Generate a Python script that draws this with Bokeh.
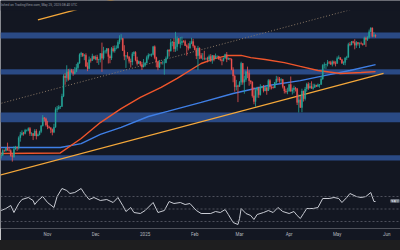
import numpy as np
import pandas as pd
from bokeh.plotting import figure
from bokeh.models import (Range1d, LinearScale, BoxAnnotation, Span, Label,
                          FixedTicker, ColumnDataSource, Div)
from bokeh.layouts import column
from bokeh.embed import file_html
from bokeh.resources import INLINE

# ---------------- data (BTC/USD daily, thousand USD) ----------------
first_day = "2024-10-01"
last_day = "2025-05-25"
open_first = 63.3

close = [
    # Oct 2024
    60.8, 60.6, 60.75, 62.1, 62.05, 62.8, 62.2, 62.1, 60.6, 60.3, 62.5, 63.2, 62.85, 66.05, 67.0, 67.6,
    67.4, 68.4, 68.4, 69.0, 67.4, 67.4, 66.7, 68.2, 66.6, 67.0, 68.0, 69.9, 72.7, 72.3, 70.2,
    # Nov
    69.5, 69.3, 68.7, 67.8, 69.4, 75.6, 75.9, 76.5, 76.7, 80.5, 88.7, 88.0, 90.5, 87.3, 91.1, 90.6,
    89.8, 90.5, 92.3, 94.3, 98.3, 98.9, 97.7, 98.0, 93.0, 91.9, 95.9, 95.6, 97.5, 96.4,
    # Dec
    97.2, 95.9, 96.0, 98.8, 96.6, 99.9, 99.9, 101.2, 97.4, 96.7, 101.2, 100.0, 101.4, 101.4, 104.3, 106.1,
    106.1, 100.2, 97.5, 97.8, 97.3, 95.2, 94.9, 98.7, 99.4, 95.8, 94.2, 95.1, 93.7, 92.6, 93.4,
    # Jan 2025
    94.4, 96.9, 98.1, 98.2, 98.3, 102.1, 96.9, 95.0, 92.5, 94.7, 94.5, 94.5, 94.5, 96.5, 100.5, 99.9,
    104.1, 104.4, 101.1, 102.0, 106.1, 103.7, 104.0, 104.8, 104.7, 102.6, 102.1, 101.3, 103.7, 104.7, 102.4,
    # Feb
    100.6, 97.7, 101.4, 97.9, 96.6, 96.6, 96.5, 96.5, 96.1, 97.4, 95.7, 97.9, 96.6, 97.5, 97.6, 96.1,
    95.8, 95.5, 96.6, 98.3, 96.1, 96.6, 96.2, 91.4, 88.7, 84.3, 84.7, 84.4,
    # Mar
    86.1, 94.3, 86.1, 87.2, 90.6, 89.9, 86.7, 86.2, 80.7, 78.5, 82.9, 83.7, 81.1, 84.0, 84.3, 82.6,
    84.0, 82.7, 86.8, 84.2, 84.0, 83.8, 86.1, 87.5, 87.4, 86.9, 87.2, 84.4, 82.6, 82.3, 82.5,
    # Apr
    85.2, 82.5, 83.1, 83.8, 83.5, 78.2, 79.2, 76.3, 82.6, 79.6, 83.4, 85.3, 83.7, 84.5, 83.6, 84.0,
    84.9, 84.4, 85.1, 85.2, 87.5, 93.4, 93.7, 93.9, 94.7, 94.6, 93.8, 95.0, 94.3, 94.2,
    # May
    96.5, 96.9, 95.9, 94.3, 94.7, 96.8, 97.0, 103.2, 102.9, 104.6, 104.1, 102.8, 104.1, 103.5, 103.7, 103.5,
    103.1, 106.4, 105.6, 106.8, 109.7, 111.7, 107.3, 107.8, 107.3,
]
high = [
    64.1, 62.4, 61.5, 62.5, 62.4, 63.0, 64.5, 63.2, 62.5, 61.3, 63.4, 63.5, 63.3, 66.5, 67.9, 68.4,
    67.9, 68.9, 68.7, 69.4, 69.5, 67.8, 67.5, 68.8, 68.8, 67.4, 68.3, 70.2, 73.6, 72.9, 72.7,
    71.6, 69.9, 69.4, 69.0, 70.6, 76.4, 76.9, 77.2, 76.9, 81.5, 89.5, 89.9, 93.4, 91.8, 91.9, 91.8,
    91.7, 92.6, 94.0, 94.9, 98.9, 99.6, 98.9, 98.6, 98.9, 94.7, 97.4, 96.6, 98.7, 97.8,
    97.9, 98.2, 96.3, 99.0, 104.1, 102.0, 100.5, 101.4, 101.2, 98.3, 101.9, 102.5, 102.7, 102.7, 105.3, 107.8,
    108.4, 106.5, 102.8, 98.0, 99.5, 97.4, 96.4, 99.5, 99.9, 99.9, 97.3, 95.5, 95.2, 94.9, 96.2,
    94.9, 97.8, 98.9, 98.7, 98.8, 102.5, 102.7, 97.3, 95.3, 95.8, 94.9, 95.4, 95.9, 97.4, 100.7, 100.9,
    105.9, 104.9, 106.3, 109.6, 107.2, 106.4, 106.9, 107.1, 105.3, 105.5, 103.2, 103.8, 104.8, 106.5, 106.0,
    102.8, 101.5, 102.5, 101.7, 99.0, 99.0, 100.1, 96.9, 97.3, 98.3, 98.5, 98.1, 97.9, 98.8, 97.9, 97.7,
    97.0, 96.6, 96.9, 98.7, 99.5, 96.9, 96.6, 96.5, 92.5, 89.3, 87.1, 85.1,
    86.6, 95.0, 94.4, 88.9, 91.0, 92.8, 91.2, 86.9, 86.5, 84.1, 83.6, 84.3, 84.3, 85.3, 84.7, 85.0,
    84.7, 84.0, 87.4, 87.4, 84.8, 84.5, 86.1, 88.8, 88.5, 88.3, 87.8, 87.5, 84.6, 83.5, 83.9,
    85.5, 88.5, 83.9, 84.7, 84.2, 83.8, 81.2, 80.8, 83.5, 82.7, 84.2, 85.9, 86.1, 85.8, 86.5, 85.5,
    85.5, 85.1, 85.6, 85.3, 88.5, 93.9, 94.7, 94.0, 95.8, 95.3, 95.4, 95.6, 95.5, 95.2,
    97.4, 97.9, 96.9, 96.3, 95.2, 96.9, 97.7, 104.0, 104.3, 104.9, 105.0, 105.8, 104.9, 104.4, 104.2, 104.6,
    103.7, 107.1, 107.1, 107.3, 110.8, 111.9, 111.8, 109.5, 108.3,
]
low = [
    60.2, 60.0, 59.8, 60.5, 61.7, 61.8, 62.1, 61.8, 60.3, 58.9, 60.0, 62.4, 62.0, 62.4, 64.8, 66.7,
    66.7, 67.1, 68.0, 68.1, 66.6, 66.6, 65.3, 66.6, 65.5, 66.5, 66.8, 67.5, 69.7, 71.4, 69.7,
    68.8, 69.0, 67.5, 66.8, 67.5, 69.3, 74.6, 75.5, 75.8, 76.5, 80.2, 85.1, 86.3, 86.7, 87.1, 90.1,
    88.8, 89.4, 90.4, 91.5, 94.1, 97.2, 97.2, 95.7, 92.6, 90.8, 91.8, 94.6, 95.4, 96.0,
    95.7, 94.4, 93.6, 94.7, 90.5, 95.9, 98.8, 98.8, 94.2, 94.3, 95.8, 99.3, 99.2, 100.8, 101.2, 103.3,
    105.3, 100.0, 95.7, 92.2, 96.4, 94.2, 92.4, 93.4, 97.6, 95.2, 93.3, 94.0, 93.0, 91.3, 92.5,
    92.8, 94.2, 96.0, 97.5, 97.3, 97.9, 96.1, 92.5, 91.2, 92.2, 93.8, 93.7, 89.3, 94.3, 96.5, 97.4,
    99.9, 102.3, 99.6, 99.6, 100.1, 103.3, 101.3, 102.8, 104.1, 102.5, 97.8, 100.3, 101.3, 103.3, 101.6,
    100.3, 96.2, 91.2, 96.2, 96.2, 95.7, 95.7, 95.7, 94.7, 95.3, 94.9, 94.1, 95.2, 96.3, 97.2, 96.0,
    95.2, 93.4, 95.1, 96.4, 94.8, 95.8, 95.6, 91.2, 86.1, 82.3, 82.8, 78.3,
    84.2, 85.0, 85.1, 81.5, 86.3, 87.8, 84.7, 85.3, 80.0, 77.5, 76.6, 80.0, 79.9, 80.8, 83.6, 82.0,
    82.5, 81.1, 82.6, 83.2, 83.2, 83.6, 83.8, 85.5, 86.3, 85.9, 85.8, 83.6, 81.6, 81.6, 81.3,
    82.4, 82.3, 81.2, 81.7, 82.4, 77.2, 74.5, 76.2, 74.6, 78.5, 78.9, 82.3, 83.0, 83.7, 83.6, 83.1,
    83.9, 84.2, 84.4, 83.9, 85.1, 87.1, 91.9, 91.7, 92.9, 93.9, 93.6, 92.9, 93.7, 92.9,
    94.1, 96.3, 95.8, 94.1, 93.5, 93.4, 95.8, 96.9, 102.3, 102.8, 103.7, 100.8, 101.5, 102.6, 101.4, 103.1,
    102.6, 103.1, 102.0, 104.9, 106.1, 109.3, 106.8, 106.9, 106.6,
]

# moving averages
ma_red_dates = ["2024-09-28", "2024-11-09", "2024-11-22", "2024-12-04", "2024-12-17", "2024-12-29",
                "2025-01-11", "2025-01-21", "2025-02-05", "2025-02-14", "2025-02-22", "2025-03-02",
                "2025-03-08", "2025-03-17", "2025-03-29", "2025-04-08", "2025-04-19", "2025-05-03",
                "2025-05-16", "2025-05-25"]
ma_red = [61.2, 61.4, 65.8, 71.0, 75.9, 80.1, 84.0, 87.7, 94.2, 96.5, 97.9, 97.9,
          96.9, 96.0, 94.6, 92.9, 91.1, 89.8, 90.2, 90.6]
ma_blue_dates = ["2024-09-28", "2024-11-09", "2024-11-22", "2024-12-04", "2024-12-17", "2025-01-03",
                 "2025-01-15", "2025-02-05", "2025-02-25", "2025-03-19", "2025-04-08", "2025-04-23",
                 "2025-05-09", "2025-05-25"]
ma_blue = [63.0, 63.0, 64.2, 67.1, 69.4, 73.1, 74.9, 78.2, 81.6, 84.8, 86.8, 88.9, 91.1, 93.7]

# channel trend lines
lower_dates, lower_vals = ["2024-09-26", "2025-05-30"], [54.5, 89.8]
mid_dates, mid_vals = ["2024-09-26", "2025-05-30"], [76.75, 127.1]
upper_dates, upper_vals = ["2024-10-26", "2025-01-09"], [116.0, 135.3]

# horizontal zones (bottom, top)
zones = [(106.2, 109.2), (89.4, 91.6), (71.1, 74.5), (59.2, 60.7)]

# RSI
rsi_dates = ["2024-10-03", "2024-10-06", "2024-10-09", "2024-10-11", "2024-10-14", "2024-10-16",
             "2024-10-20", "2024-10-23", "2024-10-24", "2024-10-26", "2024-10-29", "2024-11-01",
             "2024-11-05", "2024-11-07", "2024-11-10", "2024-11-13", "2024-11-15", "2024-11-18",
             "2024-11-22", "2024-11-24", "2024-11-27", "2024-11-30", "2024-12-04", "2024-12-08",
             "2024-12-12", "2024-12-15", "2024-12-18", "2024-12-20", "2024-12-23", "2024-12-25",
             "2024-12-29", "2025-01-01", "2025-01-06", "2025-01-09", "2025-01-13", "2025-01-16",
             "2025-01-19", "2025-01-23", "2025-01-26", "2025-01-29", "2025-02-02", "2025-02-05",
             "2025-02-11", "2025-02-14", "2025-02-17", "2025-02-20", "2025-02-22", "2025-02-25",
             "2025-02-28", "2025-03-01", "2025-03-02", "2025-03-05", "2025-03-08", "2025-03-10",
             "2025-03-12", "2025-03-16", "2025-03-19", "2025-03-22", "2025-03-25", "2025-03-28",
             "2025-04-01", "2025-04-04", "2025-04-06", "2025-04-08", "2025-04-10", "2025-04-12",
             "2025-04-16", "2025-04-19", "2025-04-22", "2025-04-26", "2025-04-29", "2025-05-02",
             "2025-05-04", "2025-05-07", "2025-05-09", "2025-05-13", "2025-05-16", "2025-05-19",
             "2025-05-22", "2025-05-24", "2025-05-25"]
rsi = [47.6, 50.8, 55.6, 44.4, 58.8, 65.2, 68.4, 63.6, 57.2, 63.6, 70.0, 60.4,
       52.4, 70.0, 82.8, 79.6, 74.8, 76.4, 82.8, 74.8, 65.2, 68.4, 63.6, 65.2,
       60.4, 68.4, 55.6, 46.0, 52.4, 44.4, 42.8, 47.6, 60.4, 44.4, 47.6, 62.0,
       58.8, 60.4, 57.2, 58.8, 47.6, 42.8, 42.8, 46.0, 44.4, 49.2, 41.2, 28.4,
       25.2, 34.8, 50.8, 42.8, 39.6, 33.2, 41.2, 44.4, 47.6, 44.4, 52.4, 46.0,
       42.8, 46.0, 39.6, 34.8, 42.8, 50.8, 50.8, 52.4, 66.8, 66.8, 68.4, 66.8,
       60.4, 68.4, 74.8, 70.0, 68.4, 70.0, 76.4, 62.0, 62.0]
rsi_levels = [70, 50, 30]
rsi_last_text = "61.99"

month_dates = ["2024-11-01", "2024-12-01", "2025-01-01", "2025-02-01", "2025-03-01",
               "2025-04-01", "2025-05-01", "2025-06-01"]
month_labels = ["Nov", "Dec", "2025", "Feb", "Mar", "Apr", "May", "Jun"]
header_text = "lished on TradingView.com, May 25, 2025 08:40 UTC"

# ---------------- helpers ----------------
BASE = pd.Timestamp(first_day)


def day(lst):
    return list((pd.to_datetime(lst) - BASE).days)


BG = "#131722"
GREEN = "#26a69a"
RED = "#ef5350"

days = pd.date_range(first_day, last_day)
d = np.arange(len(days))
o = np.array([open_first] + close[:-1])
c = np.array(close)
up = c >= o
src = ColumnDataSource(dict(
    x=d, top=np.maximum(o, c), bottom=np.minimum(o, c),
    hi=np.array(high), lo=np.array(low),
    color=[GREEN if u else RED for u in up]))

p = figure(width=400, height=240,
           x_range=Range1d(1.6, 251.6), y_range=Range1d(42.77, 127.33),
           y_axis_type="log", y_axis_location=None,
           output_backend="svg", toolbar_location=None,
           min_border_left=0, min_border_right=0, min_border_top=0, min_border_bottom=12,
           background_fill_color=BG, border_fill_color=BG, outline_line_color=None)
p.grid.visible = False
p.extra_y_ranges = {"rsi": Range1d(18.8, 383.6)}
p.extra_y_scales = {"rsi": LinearScale()}

for b, t in zones:
    p.add_layout(BoxAnnotation(bottom=b, top=t, fill_color="#2a4a85", fill_alpha=1.0,
                               line_color=None, level="underlay"))

p.line(day(lower_dates), lower_vals, line_color="#f5a83a", line_width=1.3)
p.line(day(upper_dates), upper_vals, line_color="#f5a83a", line_width=1.3)
p.line(day(mid_dates), mid_vals, line_color="#8a7866", line_width=1, line_dash="1 2")

p.line(day(ma_blue_dates), ma_blue, line_color="#3f7fe6", line_width=1.4)
p.line(day(ma_red_dates), ma_red, line_color="#f0552b", line_width=1.4)

p.segment(x0="x", x1="x", y0="lo", y1="hi", color="color", line_width=0.8, source=src)
p.vbar(x="x", width=0.7, top="top", bottom="bottom", fill_color="color",
       line_color="color", line_width=0.3, source=src)

# RSI pane
for lv in rsi_levels:
    p.add_layout(Span(location=lv, dimension="width", y_range_name="rsi",
                      line_color="#5d606b", line_width=0.8, line_dash="2 2"))
p.line(day(rsi_dates), rsi, y_range_name="rsi", line_color="#c9ccd4", line_width=1)
p.add_layout(Label(x=245.4, y=62.8, y_range_name="rsi", text=rsi_last_text,
                   text_font_size="3.5px", text_color="#131722", text_baseline="middle",
                   background_fill_color="#c4cbd8", text_font="Roboto"))

# header strip
p.add_layout(BoxAnnotation(bottom=121.4, fill_color=BG, fill_alpha=1.0, line_color=None))
p.add_layout(Label(x=1.7, y=124.6, text=header_text, text_font_size="3.3px",
                   text_color="#9598a1", text_baseline="middle", text_font="Roboto"))

# time axis
ticks = day(month_dates)
p.xaxis.ticker = FixedTicker(ticks=ticks)
p.xaxis.major_label_overrides = {t: lab for t, lab in zip(ticks, month_labels)}
p.xaxis.axis_line_color = None
p.xaxis.major_tick_line_color = None
p.xaxis.minor_tick_line_color = None
p.xaxis.major_tick_out = 0
p.xaxis.major_tick_in = 0
p.xaxis.minor_tick_out = 0
p.xaxis.minor_tick_in = 0
p.xaxis.major_label_text_font_size = "4.5px"
p.xaxis.major_label_text_color = "#b2b5be"
p.xaxis.major_label_text_font = "Roboto"
p.xaxis.major_label_standoff = 3

footer = Div(width=400, height=10, margin=0,
             styles={"background-color": "#1e1e1f"})

layout = column(p, footer, spacing=0)
open("out.html", "w").write(file_html(layout, INLINE))
